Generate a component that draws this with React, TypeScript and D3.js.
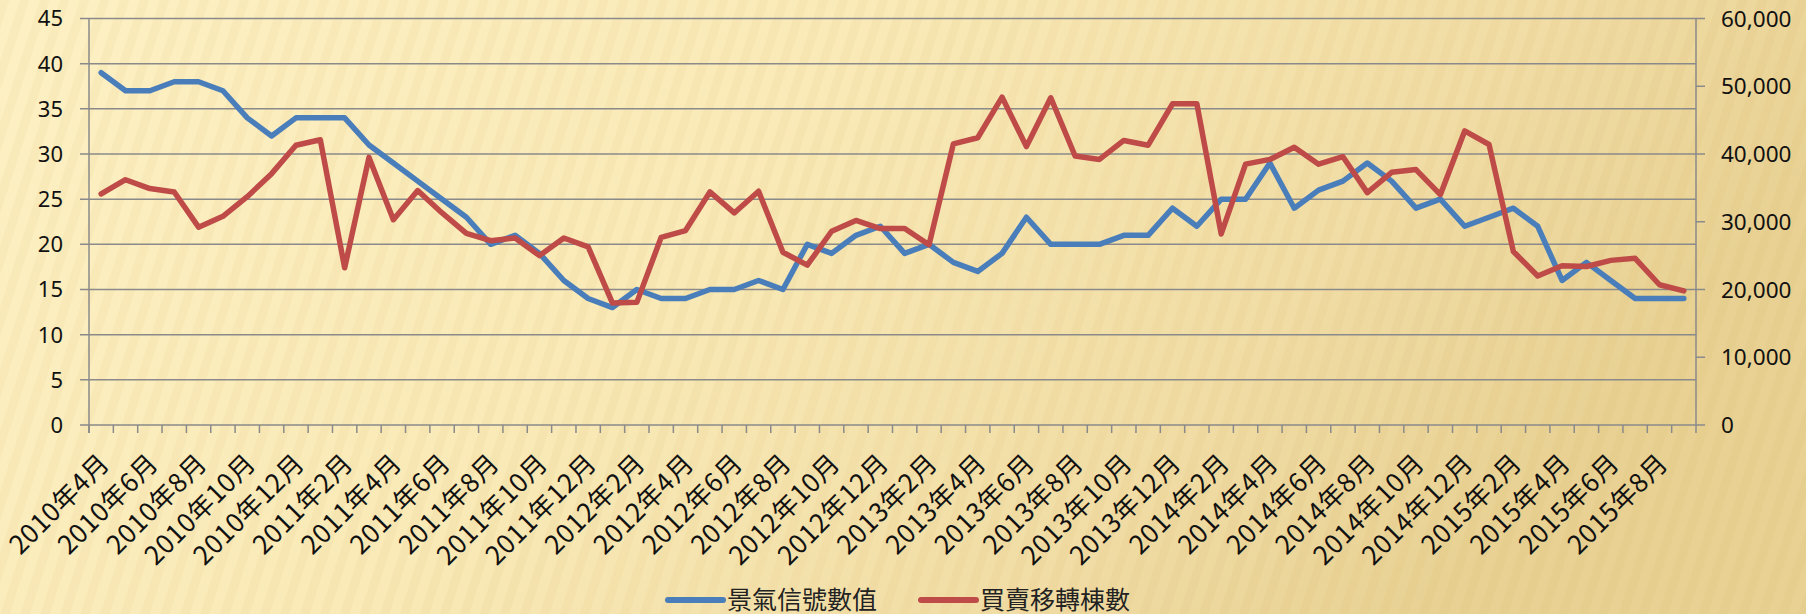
import * as d3 from 'd3';
import React, { useRef, useEffect } from 'react';

// categories: 2010/4 .. 2015/9, one per month
const months = [
  '2010年4月', '2010年5月', '2010年6月', '2010年7月', '2010年8月', '2010年9月', '2010年10月', '2010年11月', '2010年12月',
  '2011年1月', '2011年2月', '2011年3月', '2011年4月', '2011年5月', '2011年6月', '2011年7月', '2011年8月', '2011年9月',
  '2011年10月', '2011年11月', '2011年12月',
  '2012年1月', '2012年2月', '2012年3月', '2012年4月', '2012年5月', '2012年6月', '2012年7月', '2012年8月', '2012年9月',
  '2012年10月', '2012年11月', '2012年12月',
  '2013年1月', '2013年2月', '2013年3月', '2013年4月', '2013年5月', '2013年6月', '2013年7月', '2013年8月', '2013年9月',
  '2013年10月', '2013年11月', '2013年12月',
  '2014年1月', '2014年2月', '2014年3月', '2014年4月', '2014年5月', '2014年6月', '2014年7月', '2014年8月', '2014年9月',
  '2014年10月', '2014年11月', '2014年12月',
  '2015年1月', '2015年2月', '2015年3月', '2015年4月', '2015年5月', '2015年6月', '2015年7月', '2015年8月', '2015年9月',
];

// 景氣信號數值 (left axis)
const signal = [
  39, 37, 37, 38, 38, 37, 34, 32, 34, 34, 34, 31, 29, 27, 25, 23, 20, 21, 19, 16, 14, 13,
  15, 14, 14, 15, 15, 16, 15, 20, 19, 21, 22, 19, 20, 18, 17, 19, 23, 20, 20, 20, 21, 21, 24, 22, 25,
  25, 29, 24, 26, 27, 29, 27, 24, 25, 22, 23, 24, 22, 16, 18, 16, 14, 14, 14,
];

// 買賣移轉棟數 (right axis)
const transfers = [
  34100, 36200, 34900, 34400, 29200, 30800, 33700, 37100, 41300, 42100, 23200, 39500, 30300, 34600, 31300, 28300,
  27200, 27600, 25000, 27600, 26300, 18000,
  18100, 27700, 28700, 34400, 31300, 34500, 25500, 23600, 28600, 30200, 29000, 29000, 26600, 41500, 42400, 48400,
  41100, 48300, 39700, 39200, 42000, 41300, 47400, 47400,
  28200, 38500, 39200, 41000, 38500, 39600, 34300, 37300, 37700, 34000, 43400, 41400, 25600, 22000, 23500, 23400,
  24300, 24600, 20700, 19800,
];

const leftTicks = [0, 5, 10, 15, 20, 25, 30, 35, 40, 45];
const rightTicks = [0, 10000, 20000, 30000, 40000, 50000, 60000];

const seriesNames = ['景氣信號數值', '買賣移轉棟數'];
const colors = ['#4a7ebb', '#be4b48'];

const W = 1806, H = 614;
const margin = { left: 89, right: 110, top: 18.5, bottom: 189 };

function App() {
  const ref = useRef<SVGSVGElement>(null);

  useEffect(() => {
    const svg = d3.select(ref.current);
    svg.selectAll('*').remove();

    const x0 = margin.left, x1 = W - margin.right;
    const y0 = H - margin.bottom, y1 = margin.top;

    const x = d3.scaleBand().domain(months).range([x0, x1]);
    const yL = d3.scaleLinear().domain([0, 45]).range([y0, y1]);
    const yR = d3.scaleLinear().domain([0, 60000]).range([y0, y1]);
    const cx = (m: string) => (x(m) as number) + x.bandwidth() / 2;

    // background
    const defs = svg.append('defs');
    const grad = defs.append('linearGradient').attr('id', 'bg').attr('x1', 0).attr('x2', 1).attr('y1', 0).attr('y2', 0.3);
    grad.append('stop').attr('offset', '0%').attr('stop-color', '#fdf0c3');
    grad.append('stop').attr('offset', '45%').attr('stop-color', '#f9eab7');
    grad.append('stop').attr('offset', '80%').attr('stop-color', '#f0dca4');
    grad.append('stop').attr('offset', '100%').attr('stop-color', '#e8d193');
    const pat = defs.append('pattern').attr('id', 'stripes').attr('patternUnits', 'userSpaceOnUse')
      .attr('width', 19).attr('height', 40).attr('patternTransform', 'rotate(18)');
    pat.append('rect').attr('width', 9).attr('height', 40).attr('fill', 'rgba(205,160,70,0.06)');

    svg.append('rect').attr('width', W).attr('height', H).attr('fill', 'url(#bg)');
    svg.append('rect').attr('width', W).attr('height', H).attr('fill', 'url(#stripes)');

    const grid = '#8a8a8a';

    // gridlines + left ticks
    const g = svg.append('g');
    g.selectAll('line.grid').data(leftTicks).enter().append('line')
      .attr('x1', x0 - 9).attr('x2', x1)
      .attr('y1', d => yL(d)).attr('y2', d => yL(d))
      .attr('stroke', grid).attr('stroke-width', 1.5);

    g.append('line').attr('x1', x0).attr('x2', x0).attr('y1', y1).attr('y2', y0 + 8).attr('stroke', grid).attr('stroke-width', 1.5);
    g.append('line').attr('x1', x1).attr('x2', x1).attr('y1', y1).attr('y2', y0 + 8).attr('stroke', grid).attr('stroke-width', 1.5);

    // right ticks
    g.selectAll('line.rt').data(rightTicks).enter().append('line')
      .attr('x1', x1).attr('x2', x1 + 9)
      .attr('y1', d => yR(d)).attr('y2', d => yR(d))
      .attr('stroke', grid).attr('stroke-width', 1.5);

    // bottom ticks at band edges
    g.selectAll('line.bt').data(months).enter().append('line')
      .attr('x1', d => x(d) as number).attr('x2', d => x(d) as number)
      .attr('y1', y0).attr('y2', y0 + 8)
      .attr('stroke', grid).attr('stroke-width', 1.5);

    const numFont = '"Noto Sans", sans-serif';
    g.selectAll('text.lt').data(leftTicks).enter().append('text')
      .attr('x', x0 - 26).attr('y', d => yL(d)).attr('dy', '0.36em')
      .attr('text-anchor', 'end').attr('font-family', numFont).attr('font-size', 22).attr('fill', '#111')
      .text(d => d);

    g.selectAll('text.rtl').data(rightTicks).enter().append('text')
      .attr('x', x1 + 25).attr('y', d => yR(d)).attr('dy', '0.36em')
      .attr('text-anchor', 'start').attr('font-family', numFont).attr('font-size', 22.5).attr('fill', '#111')
      .text(d => d3.format(',')(d));

    // category labels, every second month
    const cjk = '"Noto Sans CJK TC", sans-serif';
    g.selectAll('text.cat').data(months.filter((_, i) => i % 2 === 0)).enter().append('text')
      .attr('transform', d => `translate(${cx(d) + 3},${y0 + 33}) rotate(-45)`)
      .attr('text-anchor', 'end').attr('dy', '0.38em')
      .attr('font-family', cjk).attr('font-size', 26).attr('letter-spacing', 0.6).attr('fill', '#111')
      .text(d => d);

    // lines
    const lineL = d3.line<number>().x((_, i) => cx(months[i])).y(d => yL(d));
    const lineR = d3.line<number>().x((_, i) => cx(months[i])).y(d => yR(d));

    svg.append('path').datum(signal).attr('d', lineL)
      .attr('fill', 'none').attr('stroke', colors[0]).attr('stroke-width', 5.5)
      .attr('stroke-linejoin', 'round').attr('stroke-linecap', 'round');
    svg.append('path').datum(transfers).attr('d', lineR)
      .attr('fill', 'none').attr('stroke', colors[1]).attr('stroke-width', 5.5)
      .attr('stroke-linejoin', 'round').attr('stroke-linecap', 'round');

    // legend
    const lg = svg.append('g');
    const legX = [668, 921];
    seriesNames.forEach((name, i) => {
      lg.append('line').attr('x1', legX[i]).attr('x2', legX[i] + 55).attr('y1', 600).attr('y2', 600)
        .attr('stroke', colors[i]).attr('stroke-width', 6).attr('stroke-linecap', 'round');
      lg.append('text').attr('x', legX[i] + 59).attr('y', 600).attr('dy', '0.34em')
        .attr('font-family', cjk).attr('font-size', 25).attr('fill', '#222')
        .text(name);
    });
  }, []);

  return (
    <div style={{ position: 'fixed', left: 0, top: 0 }}>
      <svg ref={ref} width={W} height={H} style={{ display: 'block' }}></svg>
    </div>
  );
}

export default App;
